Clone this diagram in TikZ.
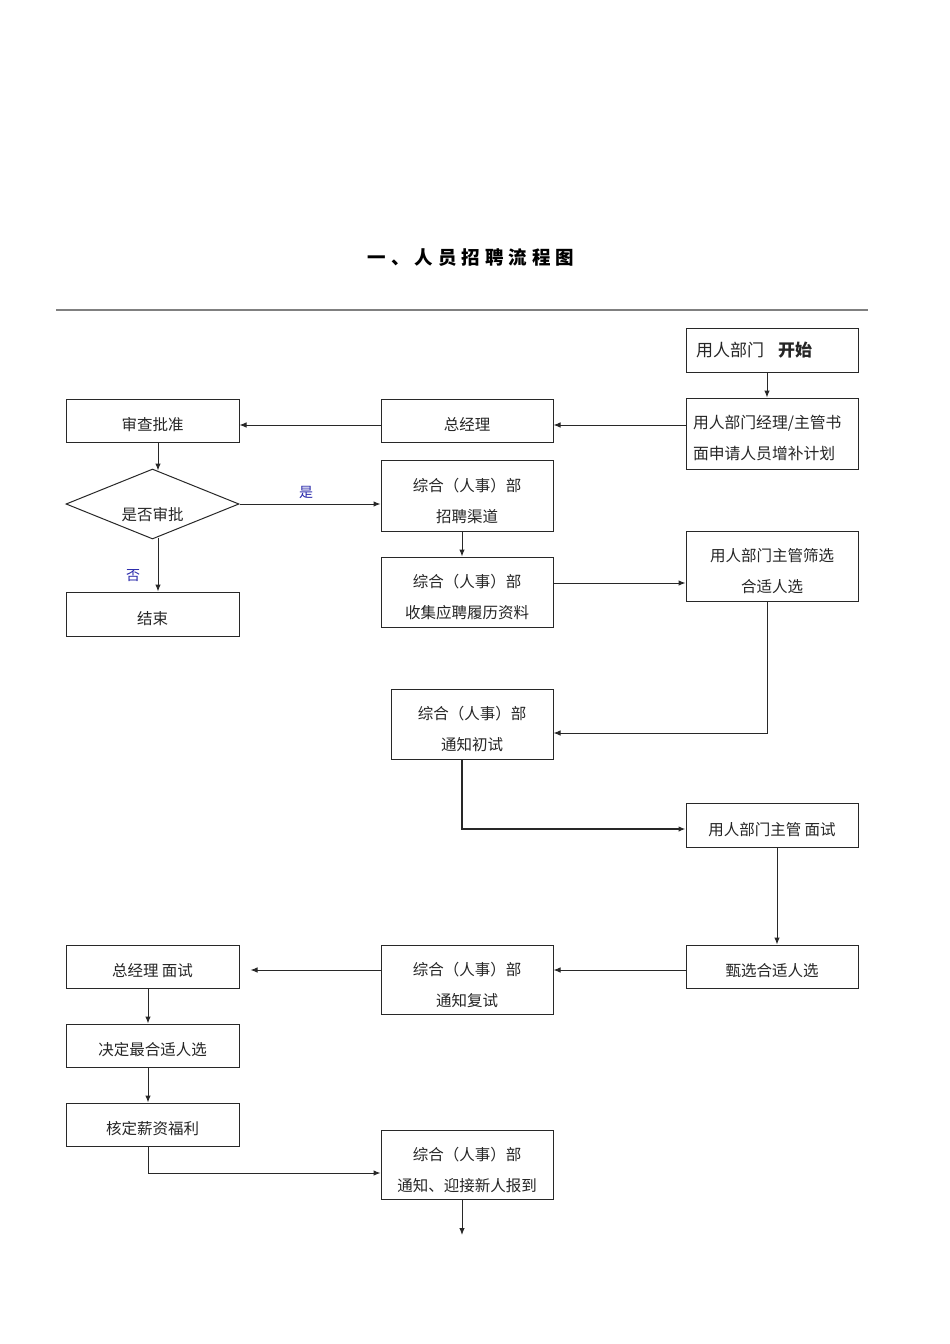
\documentclass[tikz,border=0pt]{standalone}
\usepackage{fontspec}
\newfontfamily\cjk{Noto Sans CJK SC}
\usetikzlibrary{shapes.geometric,arrows.meta,calc}
\definecolor{linegray}{RGB}{40,40,40}
\definecolor{lblblue}{RGB}{40,40,170}
\newcommand{\twolines}[2]{\mbox{}\\[-7pt]#1\\#2}
\tikzset{
  box/.style={draw=linegray,line width=1pt,inner sep=0pt,align=center,
    font=\cjk\fontsize{15.5}{31}\selectfont,text=black!85,
    execute at begin node={\rule{0pt}{22pt}}},
  lbox/.style={box,align=left,text width=158pt},
  arr/.style={draw=linegray,line width=1pt,-{Latex[length=7pt,width=5.5pt]}},
  lbl/.style={font=\cjk\fontsize{14}{16}\selectfont,text=lblblue},
  plain/.style={font=\cjk\fontsize{15.5}{18}\selectfont,text=black!85,inner sep=0pt},
}
\begin{document}
\begin{tikzpicture}[x=1pt,y=-1pt]
\useasboundingbox[fill=white] (0,0) rectangle (950,1344);
% title
\node[font=\cjk\bfseries\fontsize{18.5}{20}\selectfont] (title) at (471,258)
  {一\hspace{5pt}、\hspace{5pt}人\hspace{5pt}员\hspace{5pt}招\hspace{5pt}聘\hspace{5pt}流\hspace{5pt}程\hspace{5pt}图};
\draw[gray,line width=1.2pt] (56,310) -- (868,310);
% nodes
\node[draw=linegray,line width=1pt,inner sep=0pt,minimum width=172,minimum height=44,
  text width=152pt,align=left,font=\cjk\fontsize{17}{20}\selectfont,text=black!85] (start) at (772,350)
  {\hspace{0pt}用人部门\hspace{14pt}{\bfseries 开始}};
\node[lbox,minimum width=172,minimum height=71,font=\cjk\fontsize{15.8}{31}\selectfont] (apply) at (772,433.5)
  {用人部门经理/主管书\\面申请人员增补计划};
\node[box,minimum width=172,minimum height=43] (zjl) at (467,420.5) {总经理};
\node[box,minimum width=173,minimum height=43] (shencha) at (152.5,420.5) {审查批准};
\node[draw=linegray,line width=1pt,shape=diamond,inner sep=0pt,minimum width=173,minimum height=70] (dia) at (152.5,504) {};
\node[plain] (diatext) at (152.5,515) {是否审批};
\node[box,minimum width=173,minimum height=44] (end) at (152.5,614) {结束};
\node[box,minimum width=172,minimum height=71] (qudao) at (467,495.5) {\twolines{综合（人事）部}{招聘渠道}};
\node[box,minimum width=172,minimum height=70] (shouji) at (467,592) {\twolines{综合（人事）部}{收集应聘履历资料}};
\node[box,minimum width=172,minimum height=70] (shaixuan) at (772,566) {\twolines{用人部门主管筛选}{合适人选}};
\node[box,minimum width=162,minimum height=70] (chushi) at (472,724) {\twolines{综合（人事）部}{通知初试}};
\node[box,minimum width=172,minimum height=44] (mianshi) at (772,825) {用人部门主管 面试};
\node[box,minimum width=172,minimum height=43] (zhenxuan) at (772,966.5) {甄选合适人选};
\node[box,minimum width=172,minimum height=69] (fushi) at (467,979.5) {\twolines{综合（人事）部}{通知复试}};
\node[box,minimum width=173,minimum height=43] (zjlms) at (152.5,966.5) {总经理 面试};
\node[box,minimum width=173,minimum height=43] (jueding) at (152.5,1045.5) {决定最合适人选};
\node[box,minimum width=173,minimum height=43] (heding) at (152.5,1124.5) {核定薪资福利};
\node[box,minimum width=172,minimum height=69] (baodao) at (467,1164.5) {\twolines{综合（人事）部}{通知、迎接新人报到}};
\coordinate (tail) at (462,1235);
% labels
\node[lbl] (yes) at (306,492) {是};
\node[lbl] (no) at (133,576) {否};
% connectors
\draw[arr] ([xshift=-5pt]start.south) -- ([xshift=-5pt]apply.north);
\draw[arr] ([yshift=8.5pt]apply.west) -- ([yshift=-4.5pt]zjl.east);
\draw[arr] ([yshift=-4.5pt]zjl.west) -- ([yshift=-4.5pt]shencha.east);
\draw[arr] ([xshift=5.5pt]shencha.south) -- ([xshift=5.5pt,yshift=-2pt]dia.north);
\draw[arr] (dia.east) -- ([yshift=-8.5pt]qudao.west);
\draw[arr] ([xshift=5.5pt,yshift=2pt]dia.south) -- ([xshift=5.5pt]end.north);
\draw[arr] ([xshift=-5pt]qudao.south) -- ([xshift=-5pt]shouji.north);
\draw[arr] ([yshift=9pt]shouji.east) -- ([yshift=-17pt]shaixuan.west);
\draw[arr] ([xshift=-5pt]shaixuan.south) |- ([yshift=-9pt]chushi.east);
\draw[arr,line width=1.6pt] ([xshift=-10pt]chushi.south) |- ([yshift=-4pt]mianshi.west);
\draw[arr] ([xshift=5pt]mianshi.south) -- ([xshift=5pt]zhenxuan.north);
\draw[arr] ([yshift=-3.5pt]zhenxuan.west) -- ([yshift=9.5pt]fushi.east);
\draw[arr] ([yshift=9.5pt]fushi.west) -- ([xshift=11pt,yshift=-3.5pt]zjlms.east);
\draw[arr] ([xshift=-4.5pt]zjlms.south) -- ([xshift=-4.5pt]jueding.north);
\draw[arr] ([xshift=-4.5pt]jueding.south) -- ([xshift=-4.5pt]heding.north);
\draw[arr] ([xshift=-4.5pt]heding.south) |- ([yshift=-8.5pt]baodao.west);
\draw[arr] ([xshift=-5pt]baodao.south) -- (tail);
\end{tikzpicture}
\end{document}
